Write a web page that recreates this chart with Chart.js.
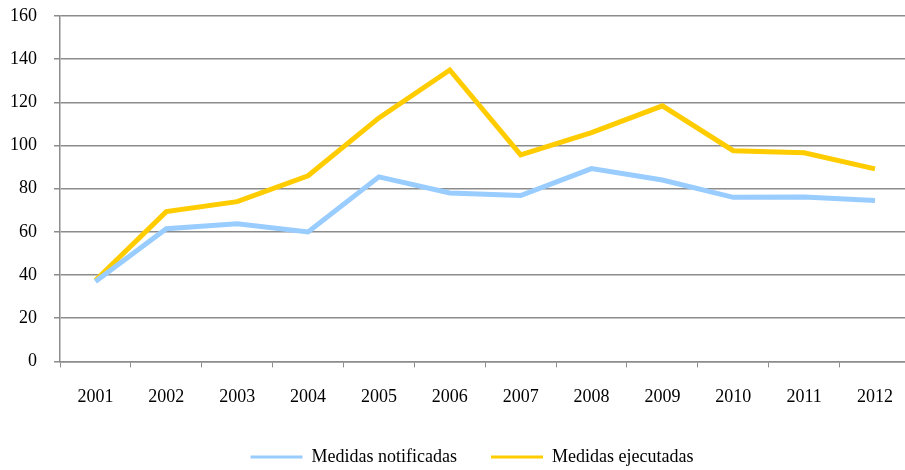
<!DOCTYPE html>
<html lang="es">
<head>
<meta charset="UTF-8">
<title>Medidas</title>
<style>
  html, body { margin: 0; padding: 0; background: #fff; overflow: hidden; }
  #wrap { width: 912px; height: 470px; }
</style>
</head>
<body>
<div id="wrap"><canvas id="myChart"></canvas></div>
<script src="https://cdn.jsdelivr.net/npm/chart.js"></script>
<script>
const years = ['2001', '2002', '2003', '2004', '2005', '2006', '2007', '2008', '2009', '2010', '2011', '2012'];
const notificadas = [37, 61.5, 63.8, 60, 85.5, 78, 76.8, 89.3, 84, 76, 76.2, 74.5];
const ejecutadas = [37.5, 69.4, 74, 86, 112.8, 135, 95.7, 106, 118.4, 97.6, 96.6, 89.2];
const yTicks = [0, 20, 40, 60, 80, 100, 120, 140, 160];

const gridGrey = '#8c8c8c';
Chart.defaults.font.family = '"Liberation Serif", "Times New Roman", serif';
Chart.defaults.font.size = 18;
Chart.defaults.color = '#000';

// place the legend like the original (a bit right of centre, near the bottom)
const legendShift = {
  id: 'legendShift',
  afterLayout(chart) {
    const lg = chart.legend;
    const dx = 472 - (lg.left + lg.right) / 2;
    const dy = 414 - lg.top;
    lg.left += dx; lg.right += dx;
    lg.top += dy; lg.bottom += dy;
  }
};

new Chart(document.getElementById('myChart'), {
  type: 'line',
  data: {
    labels: years,
    datasets: [
      { label: 'Medidas notificadas', data: notificadas, borderColor: '#99ccff', backgroundColor: '#99ccff', borderWidth: 5, pointRadius: 0, tension: 0 },
      { label: 'Medidas ejecutadas', data: ejecutadas, borderColor: '#ffcc00', backgroundColor: '#ffcc00', borderWidth: 5, pointRadius: 0, tension: 0 }
    ]
  },
  plugins: [legendShift],
  options: {
    responsive: true,
    maintainAspectRatio: false,
    animation: false,
    layout: { padding: { left: -7, right: 0, top: 0, bottom: -19 } },
    plugins: {
      tooltip: { enabled: false },
      legend: {
        position: 'bottom',
        labels: {
          boxWidth: 52,
          boxHeight: 3,
          padding: 34,
          generateLabels: (chart) => chart.data.datasets.map((ds, i) => ({
            text: ds.label,
            fillStyle: ds.borderColor,
            strokeStyle: ds.borderColor,
            lineWidth: 0,
            datasetIndex: i
          }))
        }
      }
    },
    scales: {
      x: {
        offset: true,
        grid: { offset: true, drawOnChartArea: false, color: gridGrey, tickLength: 6, lineWidth: 1 },
        border: { color: gridGrey, width: 1.5 },
        ticks: { padding: 19 }
      },
      y: {
        min: 0,
        max: 160,
        afterBuildTicks: (axis) => { axis.ticks = yTicks.map(v => ({ value: v })); },
        afterFit: (axis) => { axis.paddingTop = 16; },
        grid: { color: gridGrey, lineWidth: 1.5, tickLength: 6 },
        border: { color: gridGrey, width: 1.5 },
        ticks: { padding: 17 }
      }
    }
  }
});
</script>
</body>
</html>
